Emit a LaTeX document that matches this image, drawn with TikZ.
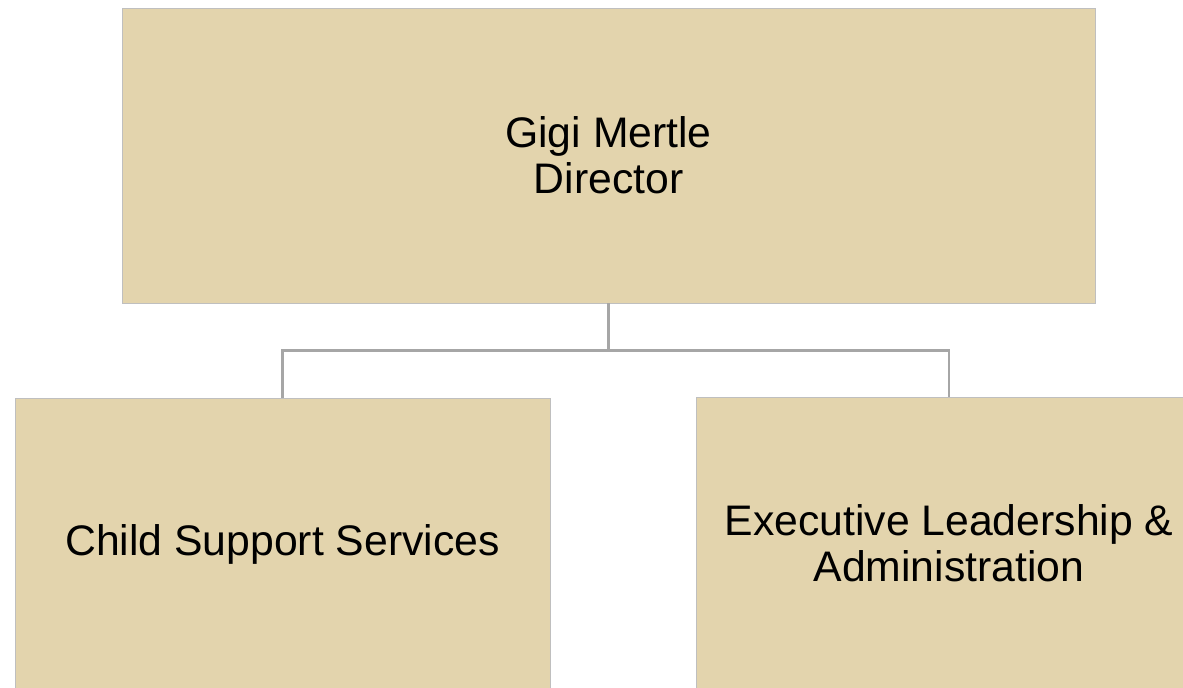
\documentclass[tikz,border=0pt]{standalone}
\usepackage{fontspec}
\setmainfont{Liberation Sans}
\usetikzlibrary{positioning}
\definecolor{boxfill}{HTML}{E3D4AD}
\definecolor{boxline}{HTML}{BFBFBF}
\definecolor{linkgray}{HTML}{A6A6A6}
\tikzset{
  orgbox/.style={rectangle,draw=boxline,line width=0.7pt,fill=boxfill,align=center,font=\fontsize{30.4}{32.5}\selectfont},
  orglink/.style={draw=linkgray,line width=1.6pt}
}
\begin{document}
\begin{tikzpicture}
    \useasboundingbox (0,0) rectangle (29.575,17.2);
    \clip (0,0) rectangle (29.575,17.2);
    % Director
    \node[orgbox,minimum width=24.325cm,minimum height=7.375cm] (director) at (15.2125,13.3125) {Gigi Mertle\\Director};

    % Units
    \node[orgbox,minimum width=13.375cm,minimum height=7.3cm] (support) at (7.0625,3.6) {Child Support Services};
    \node[orgbox,minimum width=12.65cm,minimum height=7.325cm] (admin) at (23.725,3.6125) {Executive Leadership \&\\Administration};

    % Links
    \coordinate (split) at ([yshift=-1.175cm]director.south);
    \draw[orglink] (director.south) -- (split) -| (support.north);
    \draw[orglink] (split) -| (admin.north);
\end{tikzpicture}
\end{document}
